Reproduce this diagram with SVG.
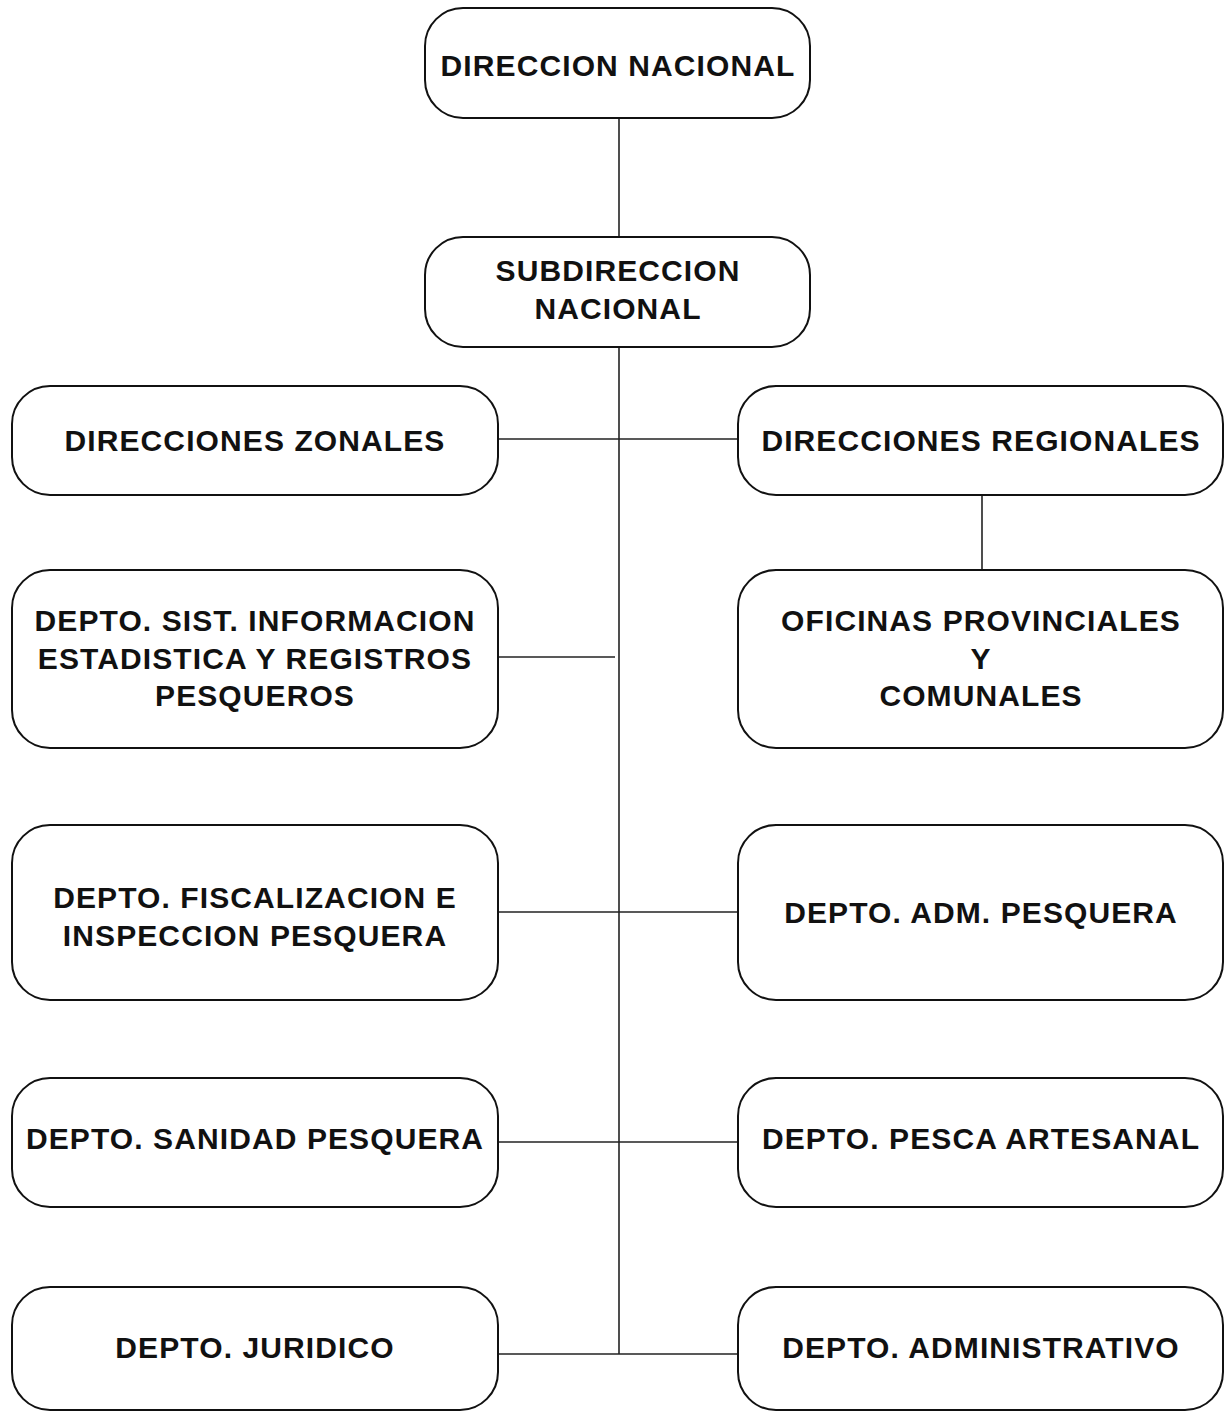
<svg xmlns="http://www.w3.org/2000/svg" width="1227" height="1415" viewBox="0 0 1227 1415">
<style>
.box{fill:#fff;stroke:#111;stroke-width:2}
.t{font-family:"Liberation Sans",Arial,Helvetica,sans-serif;font-weight:bold;font-size:30px;letter-spacing:1.1px;fill:#111;text-anchor:middle}
.c{stroke:#222;stroke-width:1.6;fill:none}
</style>
<rect width="1227" height="1415" fill="#fff"/>
<g id="connectors">
<line class="c" x1="619" y1="118" x2="619" y2="237"/>
<line class="c" x1="619" y1="347" x2="619" y2="1354"/>
<line class="c" x1="498" y1="439" x2="738" y2="439"/>
<line class="c" x1="982" y1="495" x2="982" y2="570"/>
<line class="c" x1="498" y1="657" x2="615" y2="657"/>
<line class="c" x1="498" y1="912" x2="738" y2="912"/>
<line class="c" x1="498" y1="1142" x2="738" y2="1142"/>
<line class="c" x1="498" y1="1354" x2="738" y2="1354"/>
</g>
<g id="n1"><rect class="box" x="425" y="8" width="385" height="110" rx="38"/><text class="t" x="618" y="76">DIRECCION NACIONAL</text></g>
<g id="n2"><rect class="box" x="425" y="237" width="385" height="110" rx="38"/><text class="t" x="618" y="281">SUBDIRECCION</text><text class="t" x="618" y="319">NACIONAL</text></g>
<g id="n3"><rect class="box" x="12" y="386" width="486" height="109" rx="38"/><text class="t" x="255" y="451">DIRECCIONES ZONALES</text></g>
<g id="n4"><rect class="box" x="738" y="386" width="485" height="109" rx="38"/><text class="t" x="981" y="451">DIRECCIONES REGIONALES</text></g>
<g id="n5"><rect class="box" x="12" y="570" width="486" height="178" rx="38"/><text class="t" x="255" y="631">DEPTO. SIST. INFORMACION</text><text class="t" x="255" y="669">ESTADISTICA Y REGISTROS</text><text class="t" x="255" y="706">PESQUEROS</text></g>
<g id="n6"><rect class="box" x="738" y="570" width="485" height="178" rx="38"/><text class="t" x="981" y="631">OFICINAS PROVINCIALES</text><text class="t" x="981" y="669">Y</text><text class="t" x="981" y="706">COMUNALES</text></g>
<g id="n7"><rect class="box" x="12" y="825" width="486" height="175" rx="38"/><text class="t" x="255" y="908">DEPTO. FISCALIZACION E</text><text class="t" x="255" y="946">INSPECCION PESQUERA</text></g>
<g id="n8"><rect class="box" x="738" y="825" width="485" height="175" rx="38"/><text class="t" x="981" y="923">DEPTO. ADM. PESQUERA</text></g>
<g id="n9"><rect class="box" x="12" y="1078" width="486" height="129" rx="38"/><text class="t" x="255" y="1149">DEPTO. SANIDAD PESQUERA</text></g>
<g id="n10"><rect class="box" x="738" y="1078" width="485" height="129" rx="38"/><text class="t" x="981" y="1149">DEPTO. PESCA ARTESANAL</text></g>
<g id="n11"><rect class="box" x="12" y="1287" width="486" height="123" rx="38"/><text class="t" x="255" y="1358">DEPTO. JURIDICO</text></g>
<g id="n12"><rect class="box" x="738" y="1287" width="485" height="123" rx="38"/><text class="t" x="981" y="1358">DEPTO. ADMINISTRATIVO</text></g>
</svg>
